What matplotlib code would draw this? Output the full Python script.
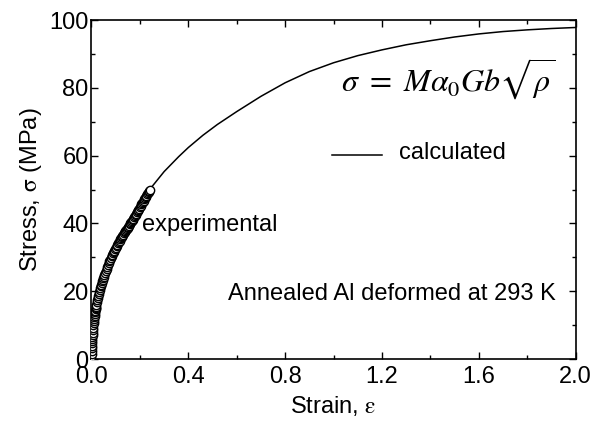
import matplotlib
matplotlib.use('Agg')
import matplotlib.pyplot as plt
from matplotlib.ticker import MultipleLocator

plt.rcParams['font.family'] = ['Liberation Sans', 'DejaVu Sans']
plt.rcParams['mathtext.fontset'] = 'stix'

# 実験データ (strain, stress)
exp_strain = [0.000, 0.001, 0.001, 0.002, 0.002, 0.003, 0.003, 0.004, 0.004, 0.005,
              0.005, 0.006, 0.007, 0.008, 0.009, 0.010, 0.011, 0.012, 0.013, 0.014,
              0.015, 0.016, 0.017, 0.018, 0.019, 0.020, 0.022, 0.024, 0.026, 0.028,
              0.030, 0.032, 0.034, 0.036, 0.038, 0.040, 0.042, 0.044, 0.046, 0.048,
              0.050, 0.053, 0.056, 0.059, 0.062, 0.065, 0.068, 0.071, 0.074, 0.077,
              0.080, 0.083, 0.086, 0.089, 0.092, 0.095, 0.098, 0.101, 0.104, 0.107,
              0.110, 0.113, 0.116, 0.119, 0.122, 0.125, 0.128, 0.131, 0.134, 0.137,
              0.140, 0.143, 0.146, 0.149, 0.152, 0.155, 0.158, 0.161, 0.164, 0.167,
              0.170, 0.173, 0.176, 0.179, 0.182, 0.185, 0.188, 0.191, 0.194, 0.197,
              0.200, 0.203, 0.206, 0.209, 0.212, 0.215, 0.218, 0.221, 0.224, 0.227,
              0.230, 0.233, 0.236, 0.239, 0.242]
exp_stress = [0.5, 1.5, 2.5, 3.2, 4.0, 4.7, 5.4, 6.0, 6.6, 7.2,
              7.8, 8.6, 9.3, 10.0, 10.6, 11.2, 11.8, 12.3, 12.8, 13.3,
              13.8, 14.3, 14.7, 15.1, 15.5, 15.9, 16.7, 17.4, 18.1, 18.7,
              19.3, 19.9, 20.5, 21.0, 21.5, 22.0, 22.5, 23.0, 23.4, 23.8,
              24.2, 24.9, 25.5, 26.1, 26.7, 27.2, 27.8, 28.3, 28.8, 29.3,
              29.8, 30.3, 30.7, 31.2, 31.6, 32.0, 32.5, 32.9, 33.3, 33.7,
              34.1, 34.5, 34.9, 35.3, 35.6, 36.0, 36.4, 36.7, 37.1, 37.4,
              37.8, 38.1, 38.5, 38.8, 39.1, 39.4, 39.8, 40.1, 40.4, 40.7,
              41.0, 41.4, 41.8, 42.1, 42.5, 42.9, 43.3, 43.7, 44.0, 44.4,
              44.8, 45.2, 45.6, 45.9, 46.3, 46.7, 47.1, 47.5, 47.8, 48.2,
              48.6, 49.0, 49.4, 49.7, 50.0]

# 計算値
calc_strain = [0.0, 0.01, 0.02, 0.04, 0.06, 0.08, 0.10, 0.13, 0.16, 0.20, 0.24,
               0.30, 0.36, 0.40, 0.46, 0.52, 0.60, 0.70, 0.80, 0.90, 1.00,
               1.10, 1.20, 1.30, 1.40, 1.50, 1.60, 1.70, 1.80, 1.90, 2.00]
calc_stress = [0.0, 11.2, 15.9, 22.0, 26.7, 29.8, 33.5, 37.8, 40.7, 44.8, 50.0,
               55.3, 59.7, 62.4, 66.0, 69.2, 73.0, 77.5, 81.5, 84.8, 87.4,
               89.5, 91.2, 92.7, 93.9, 95.0, 95.9, 96.6, 97.1, 97.5, 97.8]

fig = plt.figure(figsize=(5.93, 4.26), dpi=100)
ax = fig.add_axes([0.1543, 0.157, 0.8165, 0.796])

ax.plot(calc_strain, calc_stress, color='black', lw=1.1, zorder=2)
ax.plot(exp_strain, exp_stress, 'o', ms=6, mfc='white', mec='black', mew=1.0,
        linestyle='none', zorder=3)

# 凡例の代わりのテキスト
ax.plot([0.994, 1.20], [60.3, 60.3], color='black', lw=1.1)
ax.text(1.27, 60.8, 'calculated', fontsize=17, va='center', ha='left')
ax.text(0.209, 39.5, 'experimental', fontsize=17, va='center', ha='left')
ax.text(0.565, 19.2, 'Annealed Al deformed at 293 K', fontsize=17, va='center', ha='left')
ax.text(1.916, 82.5, r'$\sigma\ =\ M\alpha_0 Gb\sqrt{\rho}$', fontsize=23,
        va='center', ha='right')

ax.set_xlim(0, 2.0)
ax.set_ylim(0, 100)
ax.xaxis.set_major_locator(MultipleLocator(0.4))
ax.xaxis.set_minor_locator(MultipleLocator(0.2))
ax.yaxis.set_major_locator(MultipleLocator(20))
ax.yaxis.set_minor_locator(MultipleLocator(10))
ax.set_xticks([0.0, 0.4, 0.8, 1.2, 1.6, 2.0])
ax.set_xticklabels(['0.0', '0.4', '0.8', '1.2', '1.6', '2.0'])
ax.tick_params(which='both', direction='in', top=True, right=True, labelsize=17,
               width=1.0)
ax.tick_params(axis='y', pad=2)
ax.tick_params(axis='x', pad=5)
ax.tick_params(which='major', length=5)
ax.tick_params(which='minor', length=3)
for s in ax.spines.values():
    s.set_linewidth(1.2)

ax.set_xlabel('Strain, ' + r'$\mathrm{\varepsilon}$', fontsize=17, labelpad=4)
ax.set_ylabel('Stress, ' + r'$\mathrm{\sigma}$' + ' (MPa)', fontsize=17, labelpad=4)

plt.savefig('out.png', dpi=100)
